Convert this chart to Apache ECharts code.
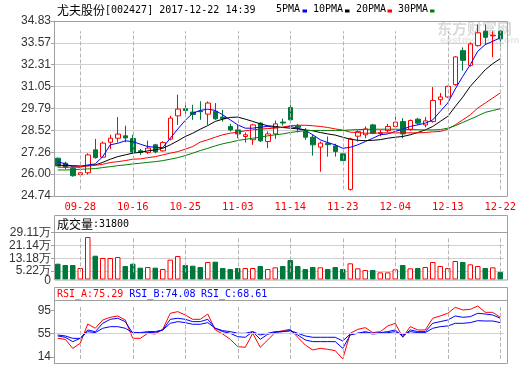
<!DOCTYPE html>
<html>
<head>
<meta charset="utf-8">
<script src="https://cdn.jsdelivr.net/npm/echarts@6/dist/echarts.min.js"></script>
<style>html,body{margin:0;padding:0;background:#fff;}#c{width:520px;height:365px;}</style>
</head>
<body>
<div id="c"></div>
<script>
const dates = ['09-25','09-26','09-27','09-28','09-29','10-09','10-10','10-11','10-12','10-13',
'10-16','10-17','10-18','10-19','10-20','10-23','10-24','10-25','10-26','10-27',
'10-30','10-31','11-01','11-02','11-03','11-06','11-07','11-08','11-09','11-10',
'11-13','11-14','11-15','11-16','11-17','11-20','11-21','11-22','11-23','11-24',
'11-27','11-28','11-29','11-30','12-01','12-04','12-05','12-06','12-07','12-08',
'12-11','12-12','12-13','12-14','12-15','12-18','12-19','12-20','12-21','12-22'];
const labelDates = ['09-28','10-16','10-25','11-03','11-14','11-23','12-04','12-13','12-22'];
// [open, close, low, high]
const candles = [
[26.92,26.47,26.45,26.95],[26.63,26.40,26.28,26.72],[26.34,25.91,25.85,26.40],[25.97,26.08,25.95,26.10],[26.08,27.11,25.97,27.20],
[27.40,26.95,26.90,28.03],[26.98,27.79,26.95,27.88],[27.84,28.07,27.44,28.27],[28.07,28.31,27.82,29.29],[28.21,28.09,27.84,28.79],
[28.05,27.27,27.21,28.27],[27.35,27.25,27.10,27.45],[27.25,27.50,27.17,27.94],[27.69,27.28,27.20,27.75],[27.34,27.82,27.30,27.90],
[28.02,29.23,27.95,29.36],[29.36,29.75,28.84,30.58],[29.77,29.67,29.36,30.00],[29.58,29.44,29.13,30.00],[29.64,29.60,29.13,30.20],
[29.46,30.10,28.84,30.19],[29.61,29.19,29.13,30.10],[29.29,29.20,29.03,29.71],[28.75,28.55,28.46,28.90],[28.55,28.32,28.07,28.84],
[28.17,28.27,27.82,28.40],[27.98,28.84,27.69,28.90],[28.94,27.92,27.85,29.00],[27.88,28.32,27.50,28.46],[28.32,28.90,28.03,29.09],
[29.00,28.95,28.80,29.20],[29.84,29.13,28.94,30.25],[28.78,28.70,28.40,28.90],[28.46,28.13,27.98,28.65],[28.13,27.69,27.07,28.27],
[27.56,27.79,26.14,27.88],[27.78,27.70,27.01,28.17],[27.63,27.30,27.01,27.75],[27.17,26.78,26.75,27.20],[25.12,28.03,25.05,28.10],
[28.19,28.45,27.88,28.53],[28.27,28.61,28.07,28.75],[28.84,28.36,28.30,28.90],[28.34,28.38,28.18,28.55],[28.51,28.75,28.40,28.90],
[28.75,29.00,28.70,29.29],[29.03,28.32,28.07,29.23],[28.59,29.09,28.50,29.15],[29.17,28.94,28.85,29.25],[28.84,29.07,28.70,29.30],
[29.03,30.25,28.97,31.02],[30.29,30.45,30.00,30.68],[30.45,31.06,30.40,31.10],[31.16,32.76,31.10,32.80],[33.12,32.56,31.97,33.31],
[32.27,33.51,32.20,33.60],[33.41,34.15,33.35,34.63],[34.24,33.89,33.47,34.63],[33.97,34.01,32.74,34.24],[34.24,33.80,33.37,34.30]];
const ma5 = [26.72,26.59,26.43,26.40,26.53,26.59,27.01,27.69,27.78,27.92,27.88,27.73,27.59,27.55,27.53,28.07,28.60,29.10,29.52,29.67,
29.75,29.67,29.42,29.13,28.84,28.65,28.65,28.71,28.75,28.69,28.69,28.75,28.65,28.52,28.27,27.98,27.82,27.69,27.49,27.55,
27.69,27.88,28.07,28.27,28.32,28.46,28.59,28.75,28.84,28.94,29.13,29.62,30.10,30.91,31.64,32.31,33.09,33.47,33.66,33.86];
const ma10 = [26.53,26.49,26.49,26.47,26.49,26.53,26.68,26.86,27.01,27.11,27.21,27.26,27.34,27.40,27.49,27.69,27.92,28.17,28.36,28.59,
28.80,29.04,29.17,29.27,29.29,29.17,29.04,28.90,28.79,28.75,28.69,28.65,28.61,28.55,28.50,28.40,28.32,28.25,28.13,28.02,
27.95,27.93,27.95,27.99,28.07,28.13,28.17,28.27,28.40,28.55,28.75,29.04,29.33,29.90,30.44,31.06,31.54,32.02,32.37,32.66];
const ma20 = [26.40,26.40,26.40,26.43,26.47,26.51,26.57,26.67,26.72,26.78,26.86,26.88,26.95,27.01,27.11,27.21,27.30,27.44,27.59,27.85,
27.98,28.13,28.27,28.36,28.42,28.50,28.55,28.59,28.63,28.65,28.71,28.79,28.82,28.82,28.79,28.75,28.69,28.61,28.54,28.42,
28.40,28.36,28.36,28.38,28.38,28.38,28.38,28.38,28.38,28.40,28.44,28.46,28.59,28.84,29.13,29.42,29.81,30.10,30.39,30.68];
const ma30 = [26.24,26.24,26.26,26.28,26.30,26.32,26.38,26.43,26.49,26.53,26.59,26.63,26.68,26.72,26.78,26.86,26.95,27.07,27.21,27.36,
27.49,27.63,27.75,27.84,27.94,28.01,28.07,28.13,28.21,28.27,28.32,28.40,28.46,28.50,28.52,28.52,28.52,28.52,28.52,28.55,
28.57,28.58,28.59,28.59,28.59,28.59,28.58,28.57,28.56,28.55,28.55,28.57,28.65,28.79,28.98,29.17,29.36,29.56,29.67,29.77];
// volume, in 万
const volume = [9.83,9.02,9.02,7.15,26.43,14.80,13.37,13.37,13.99,8.40,9.83,7.36,7.77,7.36,6.53,12.33,14.60,9.02,8.60,7.77,
10.88,11.09,7.15,6.53,7.15,7.15,7.15,8.40,6.53,7.57,8.40,12.13,8.40,6.53,7.77,7.57,6.53,7.77,6.53,10.06,
6.94,5.90,5.90,4.46,4.46,6.33,9.02,6.94,7.15,7.77,10.88,8.40,7.15,11.50,10.88,9.43,8.40,7.15,7.57,4.66];
const rsiA = [46.3,44.6,29.0,37.7,71.1,63.7,78.1,82.7,85.0,78.1,46.3,46.3,55.0,53.8,61.9,89.6,92.5,86.7,79.2,79.2,
88.4,60.8,53.8,44.6,31.9,30.8,55.0,30.8,43.5,56.7,59.6,61.9,48.1,34.8,26.2,29.0,27.3,25.0,10.6,55.0,
61.9,64.8,56.2,57.9,67.7,72.3,48.1,66.5,60.8,60.8,81.0,85.0,89.6,100.0,95.4,96.5,102.3,91.3,91.3,82.7];
const rsiB = [50.4,48.1,40.6,46.3,60.8,57.9,72.3,79.2,81.0,75.2,55.0,55.0,56.2,56.7,60.8,79.2,81.0,79.2,75.2,75.2,
79.2,63.7,57.9,55.0,49.2,48.1,57.9,44.6,53.3,56.7,57.9,59.6,52.1,43.5,40.6,40.6,40.6,40.6,29.0,52.1,
55.0,57.9,55.0,56.2,57.9,60.8,49.2,60.8,57.9,57.9,72.3,75.2,78.1,85.0,82.7,83.8,89.6,88.4,86.7,81.0];
const rsiC = [52.1,50.4,46.3,46.3,57.9,56.2,63.7,66.5,66.5,63.7,56.2,56.2,57.9,57.9,60.8,72.3,75.2,73.5,70.6,70.6,
73.5,63.7,59.6,57.9,55.0,55.0,57.9,52.1,55.0,57.9,57.9,59.6,55.0,50.4,48.1,48.1,48.1,48.1,41.7,53.8,
55.0,56.2,53.8,55.0,56.2,57.9,52.1,57.9,56.2,56.2,63.7,66.5,67.7,72.3,72.3,73.5,76.9,76.3,76.3,73.5];
const priceTicks = [24.74,26.00,27.26,28.52,29.79,31.05,32.31,33.57,34.83];
const volTicks = [5.22,13.18,21.14,29.11];
const rsiTicks = [14,55,95];

const RED = '#ff0000', GREEN = '#00783c', BLUE = '#0000ff';
const GRID_C = '#d0d0d0', FRAME_C = '#a0a0a0';
const L = 54, W = 450, FR = 508;
const MONO = 'DejaVu Sans Mono', CJK = 'Noto Sans CJK SC', SANS = 'Liberation Sans';

const isLabel = (i) => labelDates.indexOf(dates[i]) >= 0;
const dashLines = () => ({
  silent: true, symbol: ['none', 'none'], label: {show: false},
  lineStyle: {color: '#b4b4b4', type: 'dashed', width: 1},
  emphasis: {disabled: true},
  data: labelDates.map(d => [{coord: [d, 'min']}, {coord: [d, 'max']}])
});

const xBase = (gi, showLabel) => ({
  type: 'category', gridIndex: gi, data: dates, boundaryGap: true,
  axisLine: {show: false},
  axisTick: {show: false},
  axisLabel: showLabel ? {show: true, interval: isLabel, color: RED,
     fontFamily: MONO, fontSize: 10.5, margin: 6} : {show: false},
  splitLine: {show: false}
});

const upDown = candles.map(c => c[1] >= c[0]);

const chart = echarts.init(document.getElementById('c'), null, {renderer: 'canvas'});
chart.setOption({
  animation: false,
  backgroundColor: '#fff',
  grid: [
    {left: L, top: 21, width: W, height: 175},
    {left: L, top: 232.7, width: W, height: 46.8},
    {left: L, top: 301, width: W, height: 62.3}
  ],
  xAxis: [xBase(0, true), xBase(1, false), xBase(2, false)],
  yAxis: [
    {type: 'value', gridIndex: 0, min: 24.74, max: 34.83,
     axisLine: {show: true, lineStyle: {color: FRAME_C}},
     axisTick: {show: true, customValues: priceTicks, length: 3, lineStyle: {color: FRAME_C}},
     axisLabel: {customValues: priceTicks, formatter: v => v.toFixed(2), color: '#333', fontFamily: SANS, fontSize: 12, margin: 3, hideOverlap: false},
     splitLine: {show: true, lineStyle: {color: GRID_C, width: 1}}},
    {type: 'value', gridIndex: 1, min: 0, max: 29.11,
     axisLine: {show: true, lineStyle: {color: FRAME_C}},
     axisTick: {show: true, customValues: volTicks, length: 3, lineStyle: {color: FRAME_C}},
     axisLabel: {customValues: volTicks, formatter: v => v.toFixed(2) + '万', color: '#333', fontFamily: SANS, fontSize: 12, margin: 3,
                 hideOverlap: false},
     splitLine: {show: true, lineStyle: {color: GRID_C, width: 1}}},
    {type: 'value', gridIndex: 2, min: 3.1, max: 110.9,
     axisLine: {show: true, lineStyle: {color: FRAME_C}},
     axisTick: {show: true, customValues: rsiTicks, length: 3, lineStyle: {color: FRAME_C}},
     axisLabel: {customValues: rsiTicks, formatter: v => String(v), color: '#333', fontFamily: SANS, fontSize: 12, margin: 3, hideOverlap: false},
     splitLine: {show: false}}
  ],
  series: [
    {type: 'candlestick', xAxisIndex: 0, yAxisIndex: 0, data: candles.map(c => [c[0], c[1], c[2], c[3]]),
     barWidth: 5,
     itemStyle: {color: '#ffffff', color0: GREEN, borderColor: RED, borderColor0: GREEN, borderWidth: 1}, z: 3,
     markLine: dashLines()},
    {type: 'line', name: '5PMA', data: ma5, xAxisIndex: 0, yAxisIndex: 0, symbol: 'none', lineStyle: {color: BLUE, width: 1}, z: 4},
    {type: 'line', name: '10PMA', data: ma10, xAxisIndex: 0, yAxisIndex: 0, symbol: 'none', lineStyle: {color: '#000', width: 1}, z: 4},
    {type: 'line', name: '20PMA', data: ma20, xAxisIndex: 0, yAxisIndex: 0, symbol: 'none', lineStyle: {color: RED, width: 1}, z: 4},
    {type: 'line', name: '30PMA', data: ma30, xAxisIndex: 0, yAxisIndex: 0, symbol: 'none', lineStyle: {color: '#008000', width: 1}, z: 4},
    {type: 'bar', xAxisIndex: 1, yAxisIndex: 1, barWidth: 5.5,
     data: volume.map((v, i) => ({value: v, itemStyle: upDown[i]
        ? {color: '#ffffff', borderColor: RED, borderWidth: 1}
        : {color: GREEN, borderColor: GREEN, borderWidth: 1}})),
     markLine: dashLines()},
    {type: 'line', name: 'RSI_A', data: rsiA, xAxisIndex: 2, yAxisIndex: 2, symbol: 'none', lineStyle: {color: RED, width: 1}, z: 4,
     markLine: dashLines()},
    {type: 'line', name: 'RSI_B', data: rsiB, xAxisIndex: 2, yAxisIndex: 2, symbol: 'none', lineStyle: {color: BLUE, width: 1}, z: 4},
    {type: 'line', name: 'RSI_C', data: rsiC, xAxisIndex: 2, yAxisIndex: 2, symbol: 'none', lineStyle: {color: BLUE, width: 1}, z: 4,
     markLine: {silent: true, symbol: ['none', 'none'], label: {show: false}, lineStyle: {color: GRID_C, type: 'solid', width: 1}, data: [{yAxis: 55}]}}
  ],
  graphic: [
    // frames
    {type: 'rect', shape: {x: L + 0.5, y: 21.5, width: FR - L - 1, height: 175}, style: {fill: 'none', stroke: FRAME_C, lineWidth: 1}, z: 100, silent: true},
    {type: 'rect', shape: {x: L + 0.5, y: 215.5, width: FR - L - 1, height: 64.5}, style: {fill: 'none', stroke: FRAME_C, lineWidth: 1}, z: 100, silent: true},
    {type: 'line', shape: {x1: L, y1: 232.5, x2: FR, y2: 232.5}, style: {stroke: FRAME_C, lineWidth: 1}, z: 100, silent: true},
    {type: 'rect', shape: {x: L + 0.5, y: 287.5, width: FR - L - 1, height: 76}, style: {fill: 'none', stroke: FRAME_C, lineWidth: 1}, z: 100, silent: true},
    {type: 'line', shape: {x1: L, y1: 300.5, x2: FR, y2: 300.5}, style: {stroke: FRAME_C, lineWidth: 1}, z: 100, silent: true},
    // volume "0" label
    {type: 'text', style: {text: '0', x: 51, y: 281, align: 'right', verticalAlign: 'middle', font: '12px "Liberation Sans"', fill: '#333'}, z: 50},
    // watermark
    {type: 'text', style: {text: '东方财富网', x: 437, y: 28, fill: '#dadada', font: 'bold 15px "Noto Sans CJK SC"', verticalAlign: 'middle'}, z: 1, silent: true},
    {type: 'text', style: {text: 'eastmoney.com', x: 440, y: 41, fill: '#e8e8e8', font: 'bold 9px "DejaVu Sans"', verticalAlign: 'middle'}, z: 1, silent: true},
    // title
    {type: 'text', style: {text: '{c|尤夫股份}{a|[002427] 2017-12-22 14:39}', x: 57, y: 10, verticalAlign: 'middle',
      rich: {c: {fontFamily: CJK, fontSize: 12, fill: '#000'}, a: {fontFamily: MONO, fontSize: 10, fill: '#000'}}}},
    // legend
    {type: 'text', style: {text: '5PMA', x: 276, y: 9.5, verticalAlign: 'middle', font: '10px "DejaVu Sans Mono"', fill: '#000'}},
    {type: 'rect', shape: {x: 302.5, y: 9.5, width: 4.5, height: 3}, style: {fill: BLUE}},
    {type: 'text', style: {text: '10PMA', x: 313, y: 9.5, verticalAlign: 'middle', font: '10px "DejaVu Sans Mono"', fill: '#000'}},
    {type: 'rect', shape: {x: 345, y: 9.5, width: 4.5, height: 3}, style: {fill: '#000'}},
    {type: 'text', style: {text: '20PMA', x: 356, y: 9.5, verticalAlign: 'middle', font: '10px "DejaVu Sans Mono"', fill: '#000'}},
    {type: 'rect', shape: {x: 387.5, y: 9.5, width: 4.5, height: 3}, style: {fill: RED}},
    {type: 'text', style: {text: '30PMA', x: 398, y: 9.5, verticalAlign: 'middle', font: '10px "DejaVu Sans Mono"', fill: '#000'}},
    {type: 'rect', shape: {x: 430, y: 9.5, width: 4.5, height: 3}, style: {fill: '#008000'}},
    // volume header
    {type: 'text', style: {text: '{c|成交量}{a|:31800}', x: 57, y: 224, verticalAlign: 'middle',
      rich: {c: {fontFamily: CJK, fontSize: 12, fill: '#000'}, a: {fontFamily: MONO, fontSize: 10, fill: '#000'}}}},
    // rsi header
    {type: 'text', style: {text: 'RSI_A:75.29', x: 57, y: 294.5, verticalAlign: 'middle', font: '10px "DejaVu Sans Mono"', fill: RED}},
    {type: 'text', style: {text: 'RSI_B:74.08', x: 129.3, y: 294.5, verticalAlign: 'middle', font: '10px "DejaVu Sans Mono"', fill: BLUE}},
    {type: 'text', style: {text: 'RSI_C:68.61', x: 201, y: 294.5, verticalAlign: 'middle', font: '10px "DejaVu Sans Mono"', fill: BLUE}}
  ]
});
</script>
</body>
</html>
